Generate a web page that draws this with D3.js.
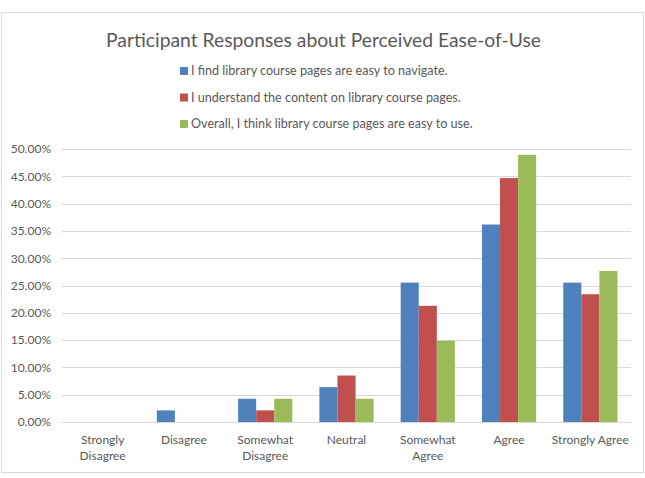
<!DOCTYPE html>
<html>
<head>
<meta charset="utf-8">
<script src="https://cdn.jsdelivr.net/npm/d3@7"></script>
<style>
  body { margin: 0; background: #fff; }
  svg { font-family: Lato, 'Open Sans', sans-serif; display: block; }
</style>
</head>
<body>
<svg id="chart" width="645" height="478"></svg>
<script>
const categories = ['Strongly Disagree', 'Disagree', 'Somewhat Disagree', 'Neutral', 'Somewhat Agree', 'Agree', 'Strongly Agree']
const categoryLines = [['Strongly', 'Disagree'], ['Disagree'], ['Somewhat', 'Disagree'], ['Neutral'], ['Somewhat', 'Agree'], ['Agree'], ['Strongly Agree']]
const seriesNames = [
  'I find library course pages are easy to navigate.',
  'I understand the content on library course pages.',
  'Overall, I think library course pages are easy to use.'
]
const navigateValues = [0, 2.13, 4.26, 6.38, 25.53, 36.17, 25.53]
const understandValues = [0, 0, 2.13, 8.51, 21.28, 44.68, 23.40]
const overallValues = [0, 0, 4.26, 4.26, 14.89, 48.94, 27.66]
const yTicks = [0, 5, 10, 15, 20, 25, 30, 35, 40, 45, 50]
const colors = ['#4f81bd', '#c0504d', '#9bbb59']

const svg = d3.select('#chart')
const margin = { top: 149, right: 14, bottom: 56, left: 62 }
const width = +svg.attr('width')
const height = +svg.attr('height')
const innerWidth = width - margin.left - margin.right
const innerHeight = height - margin.top - margin.bottom

// Chart border
svg.append('rect')
  .attr('x', 1.5)
  .attr('y', 12.5)
  .attr('width', width - 3)
  .attr('height', 460)
  .attr('fill', 'none')
  .attr('stroke', '#d9d9d9')

// Title
svg.append('text')
  .attr('x', width / 2 + 1)
  .attr('y', 47)
  .attr('text-anchor', 'middle')
  .style('font-size', '19.3px')
  .style('fill', '#595959')
  .text('Participant Responses about Perceived Ease-of-Use')

// Data table
const data = categories.map((c, i) => ({
  category: c,
  values: [navigateValues[i], understandValues[i], overallValues[i]]
}))

const g = svg.append('g')
  .attr('transform', `translate(${margin.left},${margin.top})`)

const xScale = d3.scaleBand()
  .domain(categories)
  .range([0, innerWidth])
  .paddingInner(0.333)
  .paddingOuter(0.1665)

const xInner = d3.scaleBand()
  .domain([0, 1, 2])
  .range([0, xScale.bandwidth()])

const yScale = d3.scaleLinear()
  .domain([0, 50])
  .range([innerHeight, 0])

// Gridlines
g.append('g')
  .selectAll('line')
  .data(yTicks)
  .join('line')
  .attr('x1', 0)
  .attr('x2', innerWidth)
  .attr('y1', d => Math.round(yScale(d)) + 0.5)
  .attr('y2', d => Math.round(yScale(d)) + 0.5)
  .attr('stroke', '#d9d9d9')
  .attr('stroke-width', 1)

// Axis Y
const yAxis = g.append('g')
  .call(d3.axisLeft(yScale).tickValues(yTicks).tickSize(0).tickPadding(11).tickFormat(d => d.toFixed(2) + '%'))
yAxis.select('.domain').remove()
yAxis.selectAll('text')
  .style('font-size', '12px')
  .style('font-family', 'Lato, sans-serif')
  .style('fill', '#595959')

// Bars
g.append('g')
  .selectAll('g')
  .data(data)
  .join('g')
  .attr('transform', d => `translate(${xScale(d.category)},0)`)
  .selectAll('rect')
  .data(d => d.values)
  .join('rect')
  .attr('x', (d, i) => xInner(i))
  .attr('y', d => yScale(d))
  .attr('width', xInner.bandwidth())
  .attr('height', d => innerHeight - yScale(d))
  .attr('fill', (d, i) => colors[i])

// Axis X labels (one text per line)
const xLabelData = []
categories.forEach((c, i) => {
  categoryLines[i].forEach((line, j) => xLabelData.push({ category: c, line: line, row: j }))
})

g.append('g')
  .selectAll('text')
  .data(xLabelData)
  .join('text')
  .attr('x', d => xScale(d.category) + xScale.bandwidth() / 2)
  .attr('y', d => innerHeight + 22 + d.row * 16)
  .attr('text-anchor', 'middle')
  .style('font-size', '12px')
  .style('fill', '#595959')
  .text(d => d.line)

// Legend
const legend = svg.append('g')
  .attr('transform', 'translate(180,0)')

seriesNames.forEach((name, i) => {
  const item = legend.append('g')
    .attr('transform', `translate(0,${71 + i * 26.5})`)
  item.append('rect')
    .attr('x', 0)
    .attr('y', -4)
    .attr('width', 8)
    .attr('height', 8)
    .attr('fill', colors[i])
  item.append('text')
    .attr('x', 11)
    .attr('y', 0)
    .attr('dy', '0.35em')
    .style('font-size', '12.6px')
    .style('fill', '#595959')
    .text(name)
})
</script>
</body>
</html>
